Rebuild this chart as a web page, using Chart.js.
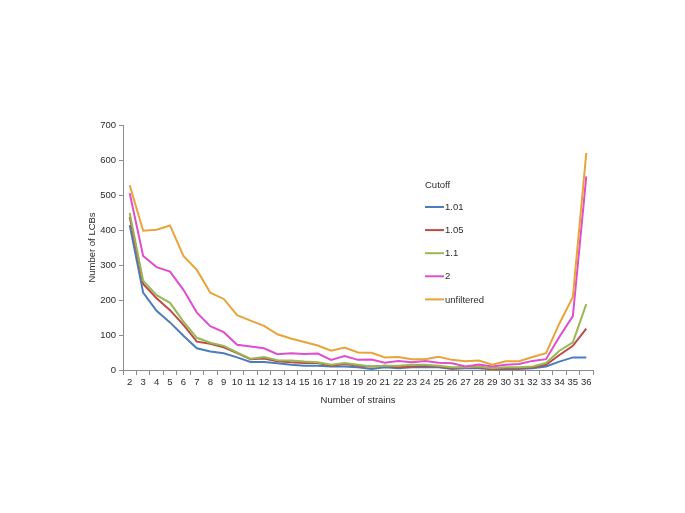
<!DOCTYPE html>
<html>
<head>
<meta charset="utf-8">
<script src="https://cdn.jsdelivr.net/npm/chart.js@4"></script>
<style>
  html, body { margin: 0; padding: 0; background: #fff; }
  #wrap { width: 685px; height: 513px; position: relative; }
</style>
</head>
<body>
<div id="wrap"><canvas id="c" width="685" height="513"></canvas></div>
<script>
const categories = ['2','3','4','5','6','7','8','9','10','11','12','13','14','15','16','17','18','19','20','21','22','23','24','25','26','27','28','29','30','31','32','33','34','35','36'];
const seriesNames = ['1.01', '1.05', '1.1', '2', 'unfiltered'];
const cutoff101 = [414,221,169,136,98,62,53,48,36,23,23,19,15,12,12,10,10,8,3,8,5,8,8,8,3,5,5,2,3,3,5,10,24,36,36];
const cutoff105 = [438,246,205,171,129,81,75,65,48,31,33,25,22,20,20,12,17,12,10,12,8,10,12,10,5,8,8,3,5,5,8,15,43,69,118];
const cutoff11  = [449,255,214,192,138,92,78,69,50,32,37,28,27,24,22,15,20,15,10,12,12,15,15,12,8,8,10,5,8,8,10,20,55,79,188];
const cutoff2   = [505,326,294,281,229,164,125,108,72,67,62,45,48,46,47,29,40,29,30,21,26,22,26,21,19,10,16,10,15,17,26,31,95,154,553];
const unfiltered= [528,398,401,413,326,286,221,203,157,141,126,102,90,80,70,55,64,50,49,36,37,31,31,38,29,25,27,15,25,25,37,48,133,209,620];
const seriesValues = [cutoff101, cutoff105, cutoff11, cutoff2, unfiltered];
const seriesColors = ['#4A7EBB', '#BE4B48', '#98B954', '#DD4FCF', '#E8A33A'];
const legendTitle = 'Cutoff';
const xTitle = 'Number of strains';
const yTitle = 'Number of LCBs';

const FONT = '"Liberation Sans", Arial, sans-serif';
const FS = 9.5;
const TEXT = '#2b2b2b';
const AXIS = '#8C8C8C';

const legendPlugin = {
  id: 'customLegend',
  afterDraw(chart) {
    const ctx = chart.ctx;
    ctx.save();
    ctx.font = FS + 'px ' + FONT;
    ctx.fillStyle = TEXT;
    ctx.textBaseline = 'middle';
    ctx.textAlign = 'left';
    ctx.fillText(legendTitle, 425, 185);
    chart.data.datasets.forEach((ds, i) => {
      const y = 207 + 23.1 * i;
      ctx.strokeStyle = ds.borderColor;
      ctx.lineWidth = 2;
      ctx.beginPath();
      ctx.moveTo(425, y);
      ctx.lineTo(444, y);
      ctx.stroke();
      ctx.fillStyle = TEXT;
      ctx.fillText(ds.label, 445, y + 0.5);
    });
    ctx.restore();
  }
};

new Chart(document.getElementById('c'), {
  type: 'line',
  data: {
    labels: categories,
    datasets: seriesNames.map((name, i) => ({
      label: name,
      data: seriesValues[i],
      borderColor: seriesColors[i],
      backgroundColor: seriesColors[i],
      borderWidth: 2,
      pointRadius: 0,
      pointHoverRadius: 0,
      tension: 0,
      fill: false,
      order: seriesNames.length - i
    }))
  },
  options: {
    responsive: false,
    animation: false,
    devicePixelRatio: 1,
    layout: { padding: { left: 82.3, top: 125, right: 92, bottom: 103.3 } },
    plugins: { legend: { display: false }, tooltip: { enabled: false } },
    scales: {
      x: {
        type: 'category',
        offset: true,
        grid: { display: true, drawOnChartArea: false, offset: true, drawTicks: true, tickLength: 5, color: AXIS },
        border: { display: true, color: AXIS, width: 1 },
        ticks: { autoSkip: false, maxRotation: 0, minRotation: 0, color: TEXT, font: { family: FONT, size: FS }, padding: 2 },
        title: { display: true, text: xTitle, color: TEXT, font: { family: FONT, size: FS } },
        afterFit(scale) { scale.height = 39.7; }
      },
      y: {
        min: 0, max: 700,
        grid: { display: true, drawOnChartArea: false, drawTicks: true, tickLength: 4, color: AXIS },
        border: { display: true, color: AXIS, width: 1 },
        ticks: { stepSize: 100, color: TEXT, font: { family: FONT, size: FS }, padding: 3 },
        title: { display: true, text: yTitle, color: TEXT, font: { family: FONT, size: FS } },
        afterFit(scale) { scale.width = 40.7; }
      }
    }
  },
  plugins: [legendPlugin]
});
</script>
</body>
</html>
